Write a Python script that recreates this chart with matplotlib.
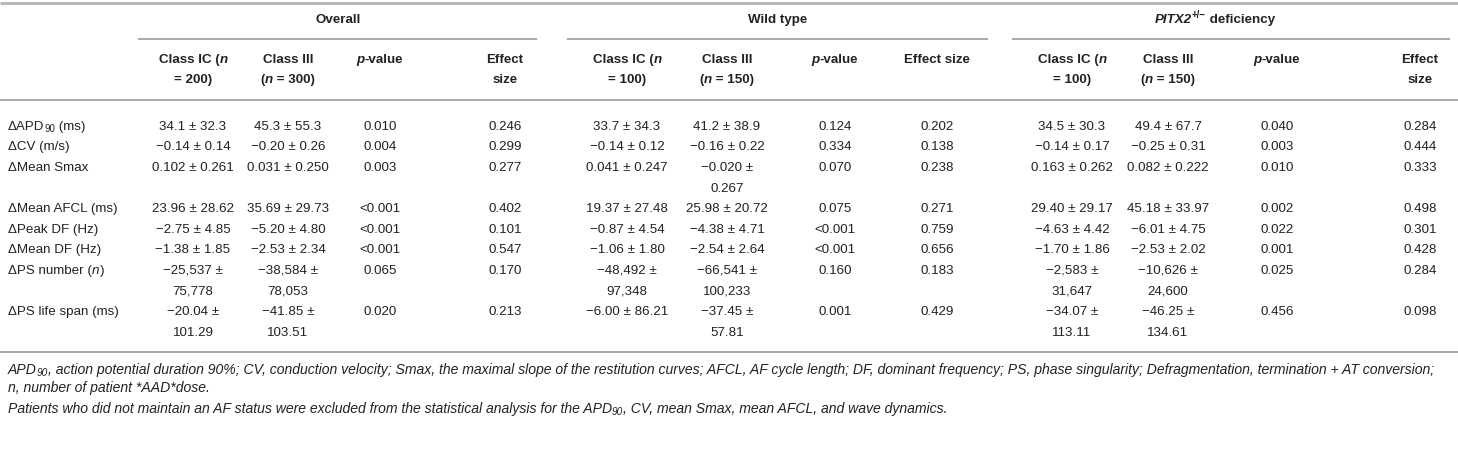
import matplotlib.pyplot as plt

plt.rcParams['font.family'] = ['Liberation Sans', 'DejaVu Sans']

# ~...~ toggles italic, _{..} subscript, ^{..} superscript
group_titles = ["Overall", "Wild type", "~PITX2~^{+/−} deficiency"]
col_headers = [
    [["Class IC (~n~", "= 200)"], ["Class III", "(~n~ = 300)"], ["~p~-value"], ["Effect", "size"]],
    [["Class IC (~n~", "= 100)"], ["Class III", "(~n~ = 150)"], ["~p~-value"], ["Effect size"]],
    [["Class IC (~n~", "= 100)"], ["Class III", "(~n~ = 150)"], ["~p~-value"], ["Effect", "size"]],
]
row_labels = ["ΔAPD_{90} (ms)", "ΔCV (m/s)", "ΔMean Smax", "ΔMean AFCL (ms)",
              "ΔPeak DF (Hz)", "ΔMean DF (Hz)", "ΔPS number (~n~)", "ΔPS life span (ms)"]

overall_ic = ["34.1 ± 32.3", "−0.14 ± 0.14", "0.102 ± 0.261", "23.96 ± 28.62",
              "−2.75 ± 4.85", "−1.38 ± 1.85", "−25,537 ± 75,778", "−20.04 ± 101.29"]
overall_iii = ["45.3 ± 55.3", "−0.20 ± 0.26", "0.031 ± 0.250", "35.69 ± 29.73",
               "−5.20 ± 4.80", "−2.53 ± 2.34", "−38,584 ± 78,053", "−41.85 ± 103.51"]
overall_p = ["0.010", "0.004", "0.003", "<0.001", "<0.001", "<0.001", "0.065", "0.020"]
overall_es = ["0.246", "0.299", "0.277", "0.402", "0.101", "0.547", "0.170", "0.213"]

wt_ic = ["33.7 ± 34.3", "−0.14 ± 0.12", "0.041 ± 0.247", "19.37 ± 27.48",
         "−0.87 ± 4.54", "−1.06 ± 1.80", "−48,492 ± 97,348", "−6.00 ± 86.21"]
wt_iii = ["41.2 ± 38.9", "−0.16 ± 0.22", "−0.020 ± 0.267", "25.98 ± 20.72",
          "−4.38 ± 4.71", "−2.54 ± 2.64", "−66,541 ± 100,233", "−37.45 ± 57.81"]
wt_p = ["0.124", "0.334", "0.070", "0.075", "<0.001", "<0.001", "0.160", "0.001"]
wt_es = ["0.202", "0.138", "0.238", "0.271", "0.759", "0.656", "0.183", "0.429"]

px_ic = ["34.5 ± 30.3", "−0.14 ± 0.17", "0.163 ± 0.262", "29.40 ± 29.17",
         "−4.63 ± 4.42", "−1.70 ± 1.86", "−2,583 ± 31,647", "−34.07 ± 113.11"]
px_iii = ["49.4 ± 67.7", "−0.25 ± 0.31", "0.082 ± 0.222", "45.18 ± 33.97",
          "−6.01 ± 4.75", "−2.53 ± 2.02", "−10,626 ± 24,600", "−46.25 ± 134.61"]
px_p = ["0.040", "0.003", "0.010", "0.002", "0.022", "0.001", "0.025", "0.456"]
px_es = ["0.284", "0.444", "0.333", "0.498", "0.301", "0.428", "0.284", "0.098"]

footnotes = [
    "APD_{90}, action potential duration 90%; CV, conduction velocity; Smax, the maximal slope of the "
    "restitution curves; AFCL, AF cycle length; DF, dominant frequency; PS, phase singularity; "
    "Defragmentation, termination + AT conversion;",
    "n, number of patient *AAD*dose.",
    "Patients who did not maintain an AF status were excluded from the statistical analysis for the "
    "APD_{90}, CV, mean Smax, mean AFCL, and wave dynamics.",
]

columns = [overall_ic, overall_iii, overall_p, overall_es,
           wt_ic, wt_iii, wt_p, wt_es,
           px_ic, px_iii, px_p, px_es]

# layout (pixels)
W, H = 1458, 462
FS = 9.6
INK = '#222222'
RULE = '#a8a8a8'
col_x = [193, 288, 380, 505, 627, 727, 835, 937, 1072, 1168, 1277, 1420]
group_x = [338, 778, 1215]
group_span = [(138, 537), (567, 988), (1012, 1450)]
LINE = 20.6
BASE = 4.7  # baseline below visual centre

fig = plt.figure(figsize=(W / 100, H / 100), dpi=100)
ax = fig.add_axes([0, 0, 1, 1])
ax.set_xlim(0, W)
ax.set_ylim(H, 0)
ax.axis('off')
renderer = fig.canvas.get_renderer()


def parse(s):
    segs, buf, ital, mode = [], '', False, ''
    i = 0
    while i < len(s):
        c = s[i]
        if c == '~':
            if buf:
                segs.append((buf, ital, mode))
                buf = ''
            ital = not ital
        elif c in '_^' and s[i + 1:i + 2] == '{':
            if buf:
                segs.append((buf, ital, mode))
                buf = ''
            mode = 'sub' if c == '_' else 'sup'
            i += 1
        elif c == '}' and mode:
            segs.append((buf, ital, mode))
            buf, mode = '', ''
        else:
            buf += c
        i += 1
    if buf:
        segs.append((buf, ital, mode))
    return segs


def seg_width(t, **kw):
    a = ax.text(0, 0, 'x' + t + 'x', **kw)
    b = ax.text(0, 0, 'xx', **kw)
    w = a.get_window_extent(renderer).width - b.get_window_extent(renderer).width
    a.remove()
    b.remove()
    return w


def rich(x, y, s, ha='center', bold=False, italic=False, size=FS):
    items = []
    for t, ital, mode in parse(s):
        kw = dict(fontsize=size * (0.72 if mode else 1),
                  fontweight='bold' if bold else 'normal',
                  fontstyle='italic' if (italic != ital) else 'normal')
        items.append((t, mode, kw, seg_width(t, **kw)))
    total = sum(it[3] for it in items)
    x0 = x - total / 2 if ha == 'center' else x
    for t, mode, kw, w in items:
        dy = {'sub': 2.5, 'sup': -4.5}.get(mode, 0)
        ax.text(x0, y + BASE + dy, t, va='baseline', ha='left', color=INK, **kw)
        x0 += w


def wrap(v):
    if len(v) > 13:
        a, b = v.split(' ± ')
        return [a + ' ±', b]
    return [v]


def hline(x0, x1, y, lw=1.4, color=RULE):
    ax.plot([x0, x1], [y, y], color=color, lw=lw, solid_capstyle='butt')


# header
hline(0, W, 2.5, lw=2.2, color='#b8b8b8')
for g in range(3):
    rich(group_x[g], 18, group_titles[g], bold=True)
    hline(*group_span[g], 38.5)
    for k, lines in enumerate(col_headers[g]):
        for j, ln in enumerate(lines):
            rich(col_x[4 * g + k], 58 + j * 20, ln, bold=True)
hline(0, W, 100)

# body
y = 125
for r, lab in enumerate(row_labels):
    rich(8, y, lab, ha='left')
    nmax = 1
    for c, vals in enumerate(columns):
        parts = wrap(vals[r])
        nmax = max(nmax, len(parts))
        for j, p in enumerate(parts):
            rich(col_x[c], y + j * LINE, p)
    y += nmax * LINE

hline(0, W, 352)

# footnotes
for fn, fy in zip(footnotes, [369, 387, 408]):
    rich(8, fy, fn, ha='left', italic=True, size=10.1)

fig.savefig('out.png', dpi=100)
